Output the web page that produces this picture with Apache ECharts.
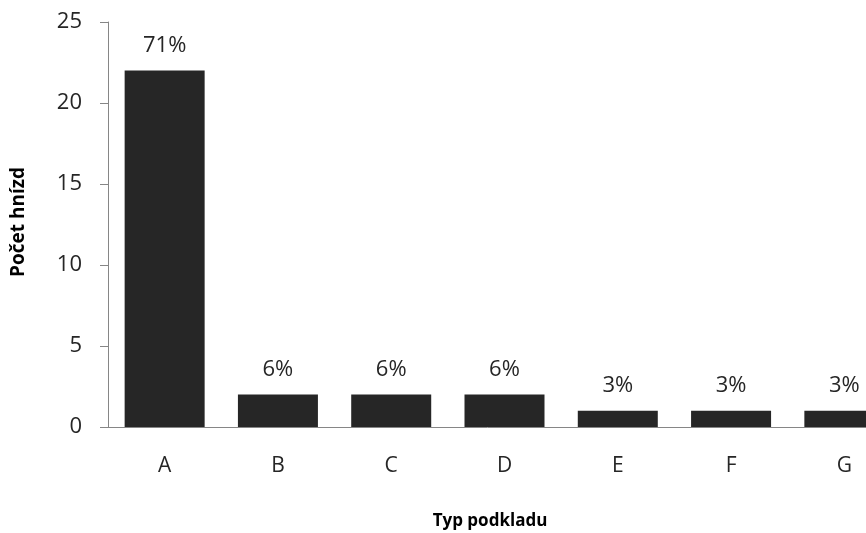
<!DOCTYPE html>
<html>
<head>
<meta charset="utf-8">
<script src="https://cdn.jsdelivr.net/npm/echarts@6/dist/echarts.min.js"></script>
<style>
  html, body { margin: 0; padding: 0; background: #ffffff; }
  #chart { width: 866px; height: 533px; }
</style>
</head>
<body>
<div id="chart"></div>
<script>
// Nest counts by substrate type
const categories = ['A', 'B', 'C', 'D', 'E', 'F', 'G'];
const nestCounts = [22, 2, 2, 2, 1, 1, 1];
const yTicks = { min: 0, max: 25, interval: 5 };

const total = nestCounts.reduce((s, v) => s + v, 0);
const FONT = '"Open Sans", sans-serif';
const TEXT = '#262626';
const AXIS = '#868686';

const chart = echarts.init(document.getElementById('chart'));
chart.setOption({
  animation: false,
  backgroundColor: '#ffffff',
  // The plot runs past the right edge, so the last bar is cut off
  grid: {
    left: 108, top: 22, height: 405, width: 793,
    containLabel: false,
    outerBoundsMode: 'none'
  },
  xAxis: {
    type: 'category',
    data: categories,
    axisLine: { show: true, lineStyle: { color: AXIS, width: 1 } },
    axisTick: { show: false },
    axisLabel: { color: TEXT, fontFamily: FONT, fontSize: 21, margin: 29 }
  },
  yAxis: {
    type: 'value',
    min: yTicks.min,
    max: yTicks.max,
    interval: yTicks.interval,
    axisLine: { show: true, lineStyle: { color: AXIS, width: 1 } },
    axisTick: { show: true, inside: false, length: 8, lineStyle: { color: AXIS } },
    splitLine: { show: false },
    axisLabel: { color: TEXT, fontFamily: FONT, fontSize: 22, margin: 26 }
  },
  series: [{
    type: 'bar',
    data: nestCounts,
    barWidth: 80,
    itemStyle: { color: '#262626' },
    label: {
      show: true,
      position: 'top',
      distance: 14,
      color: TEXT,
      fontFamily: FONT,
      fontSize: 22,
      formatter: p => Math.round(p.value / total * 100) + '%'
    }
  }],
  graphic: [{
    type: 'text',
    x: 490,
    y: 521,
    style: {
      text: 'Typ podkladu',
      fill: '#000',
      font: 'bold 17px ' + FONT,
      align: 'center',
      verticalAlign: 'middle'
    }
  }, {
    type: 'text',
    x: 19,
    y: 222,
    rotation: Math.PI / 2,
    style: {
      text: 'Počet hnízd',
      fill: '#000',
      font: 'bold 19px ' + FONT,
      align: 'center',
      verticalAlign: 'middle'
    }
  }]
});
</script>
</body>
</html>
